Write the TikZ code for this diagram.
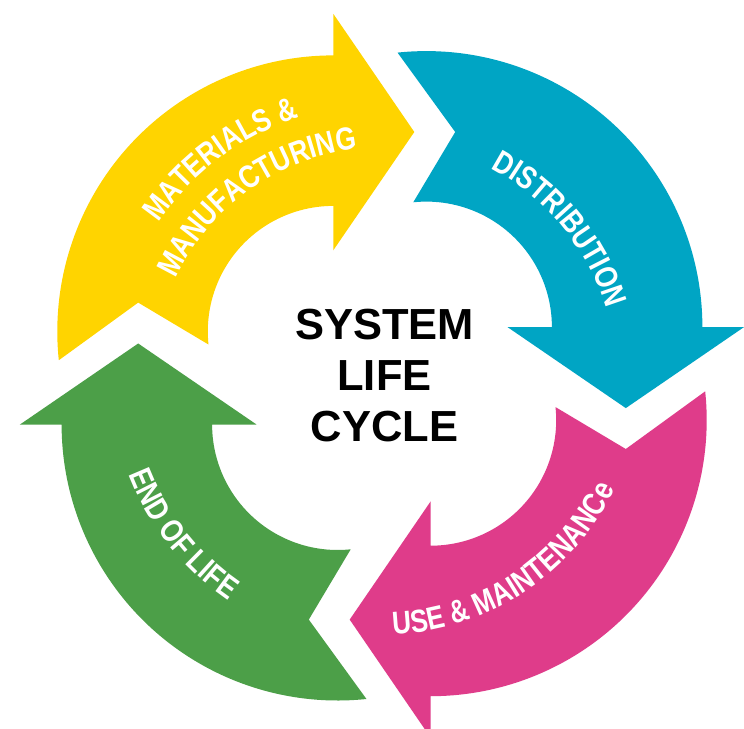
\documentclass[tikz,border=0pt]{standalone}
\usepackage{fontspec}
\setmainfont{Liberation Sans}
\newfontfamily\condfont[FakeStretch=0.82]{Liberation Sans}
\usetikzlibrary{decorations.text}
\definecolor{cyYellow}{RGB}{255,212,0}
\definecolor{cyBlue}{RGB}{0,165,196}
\definecolor{cyPink}{RGB}{223,60,138}
\definecolor{cyGreen}{RGB}{76,159,72}
\newcommand\arcfont{\condfont\bfseries\fontsize{32}{38}\selectfont}
\newcommand\cyclearrow[2]{%
  \fill[#1,rotate=#2] (-323.19,15.55) arc[start angle=186,end angle=90,radius=276]
    -- (-48.7,362) -- (32.3,243.8) -- (-48.7,125.5) -- (-48.7,169.9)
    arc[start angle=90,end angle=186,radius=125.5] -- (-243.8,73.2) -- cycle;}
\tikzset{arctext/.style={decorate,decoration={text along path,text={|\arcfont|#1},text align=center,text color=white}}}
\begin{document}
\begin{tikzpicture}[x=1pt,y=1pt]
\fill[white] (-382,-352.2) rectangle (362,375.8);
\useasboundingbox (-382,-352.2) rectangle (362,375.8);
\cyclearrow{cyYellow}{0}
\cyclearrow{cyBlue}{-90}
\cyclearrow{cyPink}{-180}
\cyclearrow{cyGreen}{90}
\path[arctext={MATERIALS {\&}}] (186.7:271) arc[start angle=186.7,end angle=66.7,radius=271];
\path[arctext={MANUFACTURING}] (185.5:228) arc[start angle=185.5,end angle=65.5,radius=228];
\path[arctext={DISTRIBUTION}] (99.5:234) arc[start angle=99.5,end angle=-20.5,radius=234];
\path[arctext={END OF LIFE}] (158.4:272) arc[start angle=158.4,end angle=278.4,radius=272];
\path[arctext={USE {\&} MAINTENANCe}] (243.3:259) arc[start angle=243.3,end angle=363.3,radius=259];
\node[font=\bfseries\fontsize{43.5}{51}\selectfont,align=center,inner sep=0] (title) at (2.5,0) {SYSTEM\\LIFE\\CYCLE};
\end{tikzpicture}
\end{document}
